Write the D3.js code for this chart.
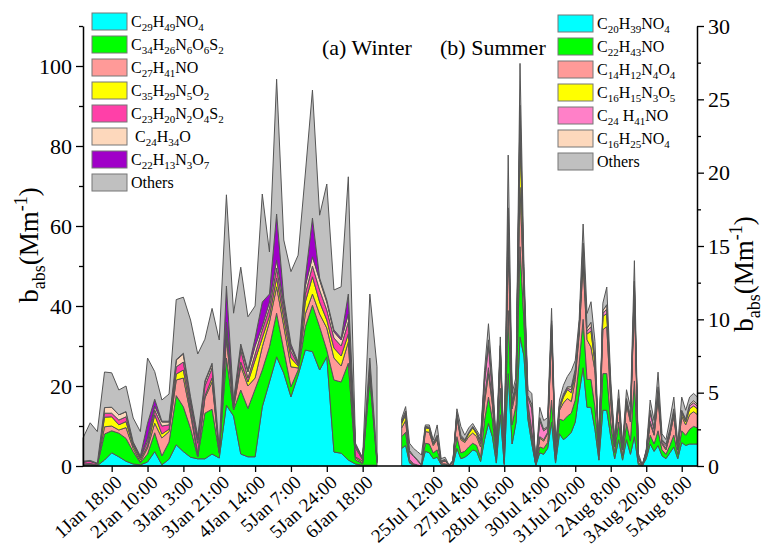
<!DOCTYPE html>
<html>
<head>
<meta charset="utf-8">
<script src="https://cdn.jsdelivr.net/npm/d3@7"></script>
<style>
  body { margin: 0; background: #fff; }
  svg, svg text { font-family: "Liberation Serif", "Times New Roman", serif; }
</style>
</head>
<body>
<svg width="765" height="549"></svg>
<script>
"use strict";

// ---- winter (42 samples) ----
const winterKeys = ["C29H49NO4", "C34H26N6O6S2", "C27H41NO", "C35H29N5O2", "C23H20N2O4S2", " C24H34O", "C22H13N3O7", "Others"];
const winterColors = ["#00ffff", "#00ff00", "#ff9a98", "#ffff00", "#ff40a8", "#fdd8bc", "#a000c8", "#c0c0c0"];
const winterTickIndex = [4, 9, 14, 19, 24, 29, 34, 39];
const winterTickLabels = ["1Jan 18:00", "2Jan 10:00", "3Jan 3:00", "3Jan 21:00", "4Jan 14:00", "5Jan 7:00", "5Jan 24:00", "6Jan 18:00"];

const winterC29H49NO4 = [0.2,0.2,0.1,1.5,3.3,2.3,1.2,0.5,0.3,1.0,3.6,0.3,1.7,5.3,3.6,2.2,1.8,1.8,3.0,2.0,15.2,12.5,3.0,2.3,2.3,14.8,21.0,27.3,23.2,17.3,22.7,29.0,28.6,24.0,27.3,3.5,3.2,1.5,0.5,0.2,0.2,0.2];
const winterC34H26N6O6S2 = [0.1,0.2,0.1,6.5,5.5,5.9,5.7,3.1,0.5,2.0,4.7,2.2,4.3,12.3,11.2,7.2,0.5,11.4,11.2,1.2,11.8,1.5,16.0,12.1,16.9,9.2,8.8,10.9,5.8,2.5,1.3,5.8,11.6,10.8,1.7,18.0,17.8,24.2,1.0,0.4,21.8,0.5];
const winterC27H41NO = [0.2,0.2,0.1,1.8,1.2,0.8,2.7,0.8,0.2,1.5,2.4,4.5,2.6,3.9,7.2,3.6,0.3,3.8,6.8,0.3,5.0,0.5,6.0,5.6,2.8,5.8,6.2,6.6,6.0,5.0,0.5,3.2,2.8,3.2,5.5,5.5,4.0,5.3,0.5,0.2,3.0,0.3];
const winterC35H29N5O2 = [0,0,0,2.4,2.3,1.3,1.5,0.6,0.6,0.5,2.1,1.0,0.6,1.5,2.0,1.0,0.6,0.5,1.0,0.2,1.0,0.5,1.0,1.0,4.5,2.2,1.5,2.2,2.0,2.2,0.5,3.0,4.3,3.0,2.0,2.5,2.5,2.0,0.3,0.4,0.5,0.2];
const winterC23H20N2O4S2 = [0.5,0.6,0.3,1.0,0.9,1.2,1.2,0.5,0.4,1.2,1.2,2.0,1.1,1.8,2.0,1.5,2.5,2.5,2.5,0.3,1.5,0.5,3.0,1.0,1.5,2.0,2.0,2.5,2.0,1.7,0.3,2.0,2.7,3.0,2.5,2.5,2.5,3.0,2.2,0.4,0.5,0.3];
const winterC24H34O = [0,0,0,1.4,1.5,1.3,1.3,0.5,0.2,0.8,1.0,1.0,0.7,1.7,2.0,1.0,0.8,1.0,1.0,0.2,1.5,0.5,1.0,1.5,2.0,1.0,1.5,2.0,1.5,1.0,0.3,2.0,2.3,2.5,2.0,1.5,1.5,2.0,0.5,0.2,0.5,0.2];
const winterC22H13N3O7 = [0.2,0.2,0.1,0,0,0,0,0,0.3,3.7,1.7,0.2,0.2,0.1,0.2,0.8,1.0,0.3,0.2,0.3,9.0,0.5,0.5,0.5,2.0,6.0,2.0,11.5,1.5,0.8,0.4,2.0,9.7,0.5,0.5,0.5,0.5,5.0,0.3,0.1,0.5,0.3];
const winterOthers = [5.8,9.4,7.9,8.9,8.6,6.2,6.4,6.0,6.1,16.3,6.9,5.3,6.8,15.0,14.0,19.2,20.5,10.4,13.7,27.0,22.8,21.7,19.2,13.3,8.0,27.0,10.5,33.7,14.5,18.1,26.7,26.0,32.0,15.7,29.0,10.0,12.8,29.3,0.4,0.1,16.0,22.8];

// ---- summer (76 samples) ----
const summerKeys = ["C20H39NO4", "C22H43NO", "C14H12N4O4", "C16H15N3O5", "C24 H41NO", "C16H25NO4", "Others"];
const summerColors = ["#00ffff", "#00ff00", "#ff9a98", "#ffff00", "#ff80c8", "#fdd8bc", "#c0c0c0"];
const summerTickIndex = [8, 17, 26, 35, 44, 53, 62, 71];
const summerTickLabels = ["25Jul 12:00", "27Jul 4:00", "28Jul 16:00", "30Jul 4:00", "31Jul 20:00", "2Aug 8:00", "3Aug 20:00", "5Aug 8:00"];

const summerC20H39NO4 = [1.2,1.4,0.2,0.05,0.02,0,1.0,0.9,0.5,0.6,0.1,0.1,0.01,0.05,1.2,0.5,0.6,0.8,1.1,1.0,0.3,1.8,2.9,2.0,0.2,3.5,0.1,6.3,1.5,3.0,8.8,7.5,3.2,1.5,0.05,0.9,0.8,1.2,3.0,0.2,2.2,1.8,2.0,2.3,3.0,5.0,6.7,4.0,4.0,2.5,0.4,3.8,3.8,2.0,0.5,1.8,0.4,1.8,0.8,2.0,0.1,0.01,0.5,1.5,1.0,1.4,0.7,0.5,0.9,1.3,0.5,1.6,1.4,1.5,1.5,1.5];
const summerC22H43NO = [0.8,0.9,0.1,0.05,0.02,0,0.55,0.6,0.4,0.5,0.05,0.05,0.01,0.05,0.8,0.4,0.4,0.5,0.45,0.4,0.3,1.3,1.8,1.2,0.3,1.8,0.1,4.3,1.3,1.2,6.15,2.3,0.5,0.3,0.02,0.4,0.4,0.4,1.5,0.2,1.0,1.3,1.4,1.3,1.5,2.0,3.3,1.9,1.9,1.5,0.3,2.5,2.5,1.0,0.4,1.2,0.3,1.1,0.9,3.8,0.15,0.01,0.2,0.6,0.5,1.0,0.4,0.3,0.5,0.8,0.3,0.8,0.7,1.0,1.2,1.1];
const summerC14H12N4O4 = [0.6,0.8,0.1,0.05,0.03,0,0.8,0.8,0.5,0.7,0.1,0.2,0.02,0.15,1.3,0.9,0.6,0.7,0.7,0.6,0.7,1.2,1.6,1.0,0.4,2.2,0.1,5.0,1.1,1.0,4.05,2.0,0.5,0.5,0.03,0.6,0.5,0.6,4.5,0.3,0.6,1.2,1.2,0.8,1.4,2.0,3.8,2.7,2.2,2.5,0.3,3.0,3.2,1.4,0.4,1.2,0.4,1.3,1.3,5.8,0.3,0.01,0.2,0.8,0.6,2.2,0.4,0.3,0.7,1.3,0.3,1.0,0.7,1.0,1.0,0.9];
const summerC16H15N3O5 = [0.3,0.4,0.05,0,0,0,0.25,0.25,0.1,0.1,0,0,0,0,0.15,0.1,0.1,0.2,0.35,0.2,0.2,0.4,0.4,0.3,0.1,0.3,0.05,0.8,0.3,0.3,4.1,0.4,0.1,0.1,0.01,0.1,0.1,0.1,0.3,0.05,0.1,0.4,0.6,0.6,0.3,0.3,0.8,0.4,1.1,0.5,0.05,0.9,0.9,0.5,0.1,0.2,0.05,0.2,0.2,0.4,0.02,0,0.02,0.15,0.1,0.3,0.1,0.1,0.1,0.2,0.05,0.2,0.2,0.4,0.4,0.4];
const summerC24H41NO = [0.1,0.1,0.5,0.5,0.3,0.05,0.05,0.05,0.05,0.1,0.05,0.05,0.01,0.05,0.1,0.1,0.05,0.05,0.05,0.05,0.2,1.0,1.5,0.6,0.1,0.2,0.05,0.6,0.15,0.1,0.7,0.3,0.4,1.5,0.04,1.1,0.6,0.3,0.3,0.1,0.1,0.1,0.1,0.2,0.2,0.1,0.3,0.2,0.3,0.2,0.05,0.2,0.3,0.2,0.05,0.1,0.05,0.1,0.1,0.3,0.05,0.01,0.03,0.6,0.3,0.3,0.1,0.2,0.2,0.2,0.05,0.1,0.1,0.2,0.2,0.2];
const summerC16H25NO4 = [0.1,0.15,0.1,0.05,0.05,0.05,0.05,0.05,0.05,0.1,0.05,0.05,0.01,0.05,0.1,0.1,0.05,0.05,0.05,0.05,0.1,0.3,0.4,0.3,0.1,0.2,0.05,0.6,0.1,0.1,0.8,0.2,0.1,0.3,0.01,0.2,0.1,0.1,0.3,0.05,0.1,0.1,0.1,0.2,0.2,0.1,0.3,0.2,0.3,0.2,0.05,0.2,0.3,0.2,0.05,0.1,0.05,0.1,0.1,0.3,0.05,0.01,0.05,0.15,0.1,0.2,0.1,0.1,0.1,0.1,0.05,0.1,0.1,0.1,0.15,0.1];
const summerOthers = [0.15,0.3,0.5,0.5,0.56,0.65,0.1,0.15,0.17,0.7,0.15,0.15,0.01,0.05,0.25,0.6,0.3,0.3,0.2,0.15,0.2,0.5,1.1,0.6,0.4,0.6,0.15,3.6,0.5,0.4,2.85,0.9,0.4,0.75,0.04,0.7,0.6,0.6,0.85,0.4,0.4,0.6,0.7,1.1,0.6,0.5,1.3,1.0,1.4,1.1,0.15,0.5,1.2,0.6,0.3,0.6,0.3,0.6,0.6,1.4,0.2,0.02,0.1,0.7,0.5,1.0,0.4,0.3,0.7,0.8,0.3,0.9,0.6,0.5,0.5,0.5];

const winterSeries = [winterC29H49NO4, winterC34H26N6O6S2, winterC27H41NO, winterC35H29N5O2, winterC23H20N2O4S2, winterC24H34O, winterC22H13N3O7, winterOthers];
const summerSeries = [summerC20H39NO4, summerC22H43NO, summerC14H12N4O4, summerC16H15N3O5, summerC24H41NO, summerC16H25NO4, summerOthers];

const svg = d3.select("svg");
const serif = "'Liberation Serif', 'Times New Roman', serif";

const yLeft = d3.scaleLinear().domain([0, 110]).range([466, 26]);
const yRight = d3.scaleLinear().domain([0, 30]).range([466, 26]);
const xWinter = d3.scaleLinear().domain([0, winterOthers.length - 1]).range([83, 377]);
const xSummer = d3.scaleLinear().domain([0, summerOthers.length - 1]).range([401.7, 697.5]);

const toRows = (keys, series) =>
  series[0].map((_, i) => {
    const row = {};
    keys.forEach((k, j) => (row[k] = series[j][i]));
    return row;
  });

const drawStack = (keys, series, colors, x, y) => {
  const stacked = d3.stack().keys(keys)(toRows(keys, series));
  const area = d3
    .area()
    .x((d, i) => x(i))
    .y0(d => y(d[0]))
    .y1(d => y(d[1]));
  svg
    .append("g")
    .selectAll("path")
    .data(stacked)
    .enter()
    .append("path")
    .attr("d", area)
    .attr("fill", (d, i) => colors[i])
    .attr("stroke", "#555")
    .attr("stroke-width", 1)
    .attr("stroke-linejoin", "round");
};

drawStack(winterKeys, winterSeries, winterColors, xWinter, yLeft);
drawStack(summerKeys, summerSeries, summerColors, xSummer, yRight);

// ---- axes ----
const styleAxis = (g, size) => {
  g.attr("font-family", null).style("font-family", serif).attr("font-size", size);
  g.selectAll("line").attr("stroke", "#000").attr("stroke-width", 1.3);
  g.selectAll("path").attr("stroke", "#000").attr("stroke-width", 1.5);
  g.selectAll("text").attr("fill", "#000");
};

svg.append("g")
  .attr("transform", "translate(83,0)")
  .call(d3.axisLeft(yLeft).tickValues(d3.range(0, 101, 20)).tickSize(7).tickSizeOuter(0).tickPadding(4).tickFormat(d3.format("d")))
  .call(g => styleAxis(g, 22));
svg.append("g")
  .attr("transform", "translate(83,0)")
  .call(d3.axisLeft(yLeft).tickValues(d3.range(10, 111, 20)).tickSize(4).tickFormat(""))
  .call(g => g.select(".domain").remove())
  .call(g => styleAxis(g, 22));

svg.append("g")
  .attr("transform", "translate(697,0)")
  .call(d3.axisRight(yRight).tickValues(d3.range(0, 31, 5)).tickSize(7).tickSizeOuter(0).tickPadding(4).tickFormat(d3.format("d")))
  .call(g => styleAxis(g, 22));
svg.append("g")
  .attr("transform", "translate(697,0)")
  .call(d3.axisRight(yRight).tickValues(d3.range(2.5, 30, 5)).tickSize(4).tickFormat(""))
  .call(g => g.select(".domain").remove())
  .call(g => styleAxis(g, 22));

const bottomAxis = (x, idx, labels) =>
  svg.append("g")
    .attr("transform", "translate(0,466)")
    .call(d3.axisBottom(x).tickValues(idx).tickSize(6).tickFormat(d => labels[idx.indexOf(d)]))
    .call(g => g.select(".domain").remove())
    .call(g => styleAxis(g, 19))
    .call(g => g.selectAll("text")
      .attr("text-anchor", "end")
      .attr("x", 0).attr("y", 0).attr("dy", "0.7em")
      .attr("transform", "translate(2,8) rotate(-42)"));

bottomAxis(xWinter, winterTickIndex, winterTickLabels);
bottomAxis(xSummer, summerTickIndex, summerTickLabels);

svg.append("line")
  .attr("x1", xWinter.range()[0]).attr("x2", xSummer.range()[1])
  .attr("y1", 466).attr("y2", 466)
  .attr("stroke", "#000").attr("stroke-width", 1.5);

// ---- labels ----
const babs = (x, y) => {
  const t = svg.append("text")
    .attr("transform", `translate(${x},${y}) rotate(-90)`)
    .attr("text-anchor", "middle")
    .style("font-family", serif)
    .attr("font-size", 27);
  t.append("tspan").text("b");
  t.append("tspan").attr("font-size", 18).attr("dy", 7).text("abs");
  t.append("tspan").attr("dy", -7).text("(Mm");
  t.append("tspan").attr("font-size", 18).attr("dy", -11).text("-1");
  t.append("tspan").attr("dy", 11).text(")");
};
babs(38, 245);
babs(753, 274);

svg.append("text").attr("x", 322).attr("y", 55).style("font-family", serif).attr("font-size", 22).text("(a) Winter");
svg.append("text").attr("x", 440).attr("y", 55).style("font-family", serif).attr("font-size", 22).text("(b) Summer");

// ---- legends ----
const formula = (text, label) => {
  let sub = false;
  label.split(/(\d+)/).forEach(part => {
    if (part === "") return;
    const isNum = /^\d+$/.test(part);
    const t = text.append("tspan").text(part);
    if (isNum) {
      t.attr("font-size", 11);
      if (!sub) t.attr("dy", 4);
      sub = true;
    } else {
      if (sub) t.attr("dy", -4);
      sub = false;
    }
  });
};

const legend = (x, y, keys, colors) => {
  const g = svg.append("g").attr("transform", `translate(${x},${y})`);
  const rows = g.selectAll("g").data(keys).enter().append("g")
    .attr("transform", (d, i) => `translate(0,${i * 23})`);
  rows.append("rect")
    .attr("width", 35).attr("height", 17)
    .attr("fill", (d, i) => colors[i])
    .attr("stroke", "#777").attr("stroke-width", 1);
  rows.append("text")
    .attr("x", 39).attr("y", 14)
    .style("font-family", serif).attr("font-size", 16)
    .style("white-space", "pre")
    .each(function (d) { formula(d3.select(this), d); });
};

legend(92, 13, winterKeys, winterColors);
legend(558, 15, summerKeys, summerColors);
</script>
</body>
</html>
